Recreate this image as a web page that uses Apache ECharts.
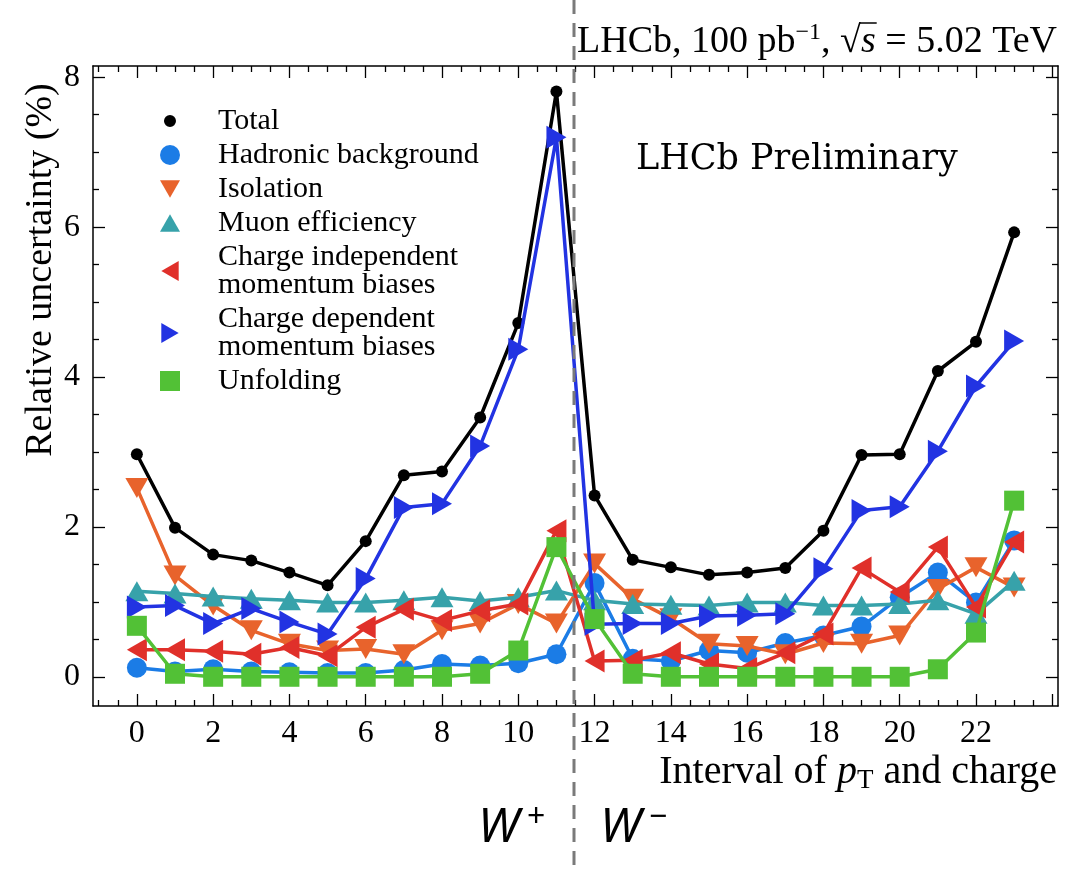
<!DOCTYPE html>
<html>
<head>
<meta charset="utf-8">
<title>Relative uncertainty per interval of pT and charge</title>
<script src="https://cdn.jsdelivr.net/npm/echarts@6/dist/echarts.min.js"></script>
<style>
  html, body { margin: 0; padding: 0; background: #ffffff; }
  #chart { width: 1066px; height: 869px; }
</style>
</head>
<body>
<div id="chart"></div>
<script>
// Interval index (pT bin and charge): 0-11 are W+, 12-23 are W-
const bins = [0, 1, 2, 3, 4, 5, 6, 7, 8, 9, 10, 11, 12, 13, 14, 15, 16, 17, 18, 19, 20, 21, 22, 23];

// Relative uncertainties in percent
const total       = [2.97, 1.99, 1.63, 1.55, 1.39, 1.22, 1.81, 2.69, 2.74, 3.46, 4.72, 7.81, 2.42, 1.56, 1.46, 1.36, 1.39, 1.45, 1.95, 2.96, 2.97, 4.08, 4.47, 5.93];
const hadronic    = [0.12, 0.07, 0.10, 0.07, 0.06, 0.05, 0.05, 0.09, 0.17, 0.15, 0.18, 0.30, 1.25, 0.24, 0.21, 0.35, 0.32, 0.45, 0.55, 0.67, 1.06, 1.39, 0.99, 1.82];
const isolation   = [2.52, 1.35, 0.95, 0.62, 0.44, 0.35, 0.37, 0.30, 0.62, 0.71, 0.97, 0.71, 1.51, 1.04, 0.78, 0.44, 0.41, 0.30, 0.45, 0.44, 0.55, 1.17, 1.46, 1.19];
const muonEff     = [1.14, 1.11, 1.07, 1.04, 1.02, 0.99, 0.99, 1.02, 1.06, 1.01, 1.06, 1.15, 1.02, 0.97, 0.96, 0.95, 0.99, 0.99, 0.95, 0.95, 0.97, 1.02, 0.84, 1.28];
const chargeIndep = [0.36, 0.36, 0.34, 0.30, 0.39, 0.28, 0.66, 0.90, 0.75, 0.88, 0.97, 1.95, 0.21, 0.22, 0.32, 0.17, 0.11, 0.32, 0.57, 1.45, 1.13, 1.73, 0.93, 1.80];
const chargeDep   = [0.93, 0.95, 0.71, 0.91, 0.73, 0.57, 1.31, 2.26, 2.31, 3.08, 4.37, 7.20, 0.70, 0.71, 0.71, 0.81, 0.82, 0.84, 1.44, 2.22, 2.27, 3.01, 3.88, 4.48];
const unfolding   = [0.68, 0.04, 0.00, 0.00, 0.00, 0.00, 0.00, 0.00, 0.00, 0.04, 0.35, 1.73, 0.77, 0.04, 0.00, 0.00, 0.00, 0.00, 0.00, 0.00, 0.00, 0.10, 0.59, 2.35];

// Series names as shown in the legend
const names = [
  'Total',
  'Hadronic background',
  'Isolation',
  'Muon efficiency',
  'Charge independent\nmomentum biases',
  'Charge dependent\nmomentum biases',
  'Unfolding'
];

// Axis tick labels
const xTickLabels = [0, 2, 4, 6, 8, 10, 12, 14, 16, 18, 20, 22];
const yTickLabels = [0, 2, 4, 6, 8];

// Axis ranges and tick spacing
const X_MIN = -1.15, X_MAX = 24.15;
const Y_MIN = -0.39, Y_MAX = 8.15;
function tickList(lo, hi, step, majorEvery) {
  const out = [];
  for (let v = Math.ceil(lo / step) * step; v <= hi + 1e-9; v += step) {
    const r = Math.round(v * 100) / 100;
    const isMajor = Math.abs(r / majorEvery - Math.round(r / majorEvery)) < 1e-6;
    out.push({ v: r, major: isMajor });
  }
  return out;
}
const xTicks = tickList(X_MIN, X_MAX, 0.5, 2);
const yTicks = tickList(Y_MIN, Y_MAX, 0.5, 2);
const xMajor = xTicks.filter(t => t.major).map(t => t.v);
const xMinor = xTicks.filter(t => !t.major).map(t => t.v);
const yMajor = yTicks.filter(t => t.major).map(t => t.v);
const yMinor = yTicks.filter(t => !t.major).map(t => t.v);

// Marker shapes
const DOT = 'path://M0,0L0.01,0.01ZM20,20L20.01,20.01ZM10,4A6,6,0,1,1,10,16A6,6,0,1,1,10,4Z';
const TRI_UP = 'path://M5,0L10,8.66L0,8.66Z';
const TRI_DOWN = 'path://M0,0L10,0L5,8.66Z';
const TRI_LEFT = 'path://M0,5L8.66,0L8.66,10Z';
const TRI_RIGHT = 'path://M8.66,5L0,0L0,10Z';

const SERIF = '"Liberation Serif", "Times New Roman", serif';
const BLACK = '#000000';

const styles = [
  { color: '#000000', symbol: 'circle', size: 12 },
  { color: '#1b7ce6', symbol: 'circle', size: 20 },
  { color: '#e8632c', symbol: TRI_DOWN, size: [23, 20] },
  { color: '#37a2aa', symbol: TRI_UP, size: [23, 20] },
  { color: '#e0302a', symbol: TRI_LEFT, size: [20, 23] },
  { color: '#2233e2', symbol: TRI_RIGHT, size: [20, 23] },
  { color: '#52c136', symbol: 'rect', size: 20 }
];
const legendIcons = [DOT, 'circle', TRI_DOWN, TRI_UP, TRI_LEFT, TRI_RIGHT, 'rect'];
const values = [total, hadronic, isolation, muonEff, chargeIndep, chargeDep, unfolding];

const series = values.map((vals, k) => ({
  name: names[k],
  type: 'line',
  xAxisIndex: 0,
  yAxisIndex: 0,
  data: bins.map((b, i) => [b, vals[i]]),
  symbol: styles[k].symbol,
  symbolSize: styles[k].size,
  itemStyle: { color: styles[k].color },
  lineStyle: { color: styles[k].color, width: 3.5 },
  emphasis: { disabled: true },
  z: 2 + k * 0.01
}));

function valueAxis(base, extra) {
  return Object.assign({
    type: 'value',
    gridIndex: 0,
    splitLine: { show: false },
    axisLine: { show: true, onZero: false, lineStyle: { color: BLACK, width: 1.5 } },
    axisLabel: { show: false },
    axisTick: { show: false }
  }, base, extra);
}
const NO_LINE = { show: false, onZero: false };

function ticks(values, len) {
  return { show: true, inside: true, length: len, customValues: values, lineStyle: { color: BLACK, width: 1.3 } };
}

const chart = echarts.init(document.getElementById('chart'), null, { renderer: 'canvas' });

// Measure text to place the radical bar above "s"
const ctx = document.createElement('canvas').getContext('2d');
function textWidth(str, font) { ctx.font = font; return ctx.measureText(str).width; }
const TOP_FS = 38;
const SUP_FS = 24;
const topMain = TOP_FS + 'px "Liberation Serif"';
const topSup = SUP_FS + 'px "Liberation Serif"';
const topIt = 'italic ' + TOP_FS + 'px "Liberation Serif"';
const pieces = [
  ['LHCb, 100 pb', topMain], ['\u22121', topSup], [', \u221A', topMain], ['s', topIt], [' = 5.02 TeV', topMain]
];
const widths = pieces.map(p => textWidth(p[0], p[1]));
const topRight = 1057;
const topLeft = topRight - widths.reduce((a, b) => a + b, 0);
const sStart = topLeft + widths[0] + widths[1] + widths[2];
const sEnd = sStart + widths[3];

const wRich = {
  w: { fontFamily: '"Noto Sans", sans-serif', fontStyle: 'italic', fontSize: 48, lineHeight: 52, fill: BLACK },
  s: { fontFamily: '"Noto Sans", sans-serif', fontSize: 32, lineHeight: 32, verticalAlign: 'top', padding: [0, 0, 0, 8], fill: BLACK }
};

chart.setOption({
  animation: false,
  backgroundColor: '#ffffff',
  grid: { left: 93, right: 8, top: 66, bottom: 163, containLabel: false },
  xAxis: [
    valueAxis({ position: 'bottom', min: X_MIN, max: X_MAX }, {
      axisTick: ticks(xMajor, 12),
      axisLabel: {
        show: true, customValues: xTickLabels, margin: 12,
        fontFamily: SERIF, fontSize: 32, color: BLACK
      }
    }),
    valueAxis({ position: 'bottom', min: X_MIN, max: X_MAX }, { axisLine: NO_LINE, axisTick: ticks(xMinor, 6) }),
    valueAxis({ position: 'top', min: X_MIN, max: X_MAX }, { axisTick: ticks(xMajor, 12) }),
    valueAxis({ position: 'top', min: X_MIN, max: X_MAX }, { axisLine: NO_LINE, axisTick: ticks(xMinor, 6) })
  ],
  yAxis: [
    valueAxis({ position: 'left', min: Y_MIN, max: Y_MAX }, {
      axisTick: ticks(yMajor, 12),
      axisLabel: {
        show: true, customValues: yTickLabels, margin: 13,
        fontFamily: SERIF, fontSize: 32, color: BLACK
      }
    }),
    valueAxis({ position: 'left', min: Y_MIN, max: Y_MAX }, { axisLine: NO_LINE, axisTick: ticks(yMinor, 6) }),
    valueAxis({ position: 'right', min: Y_MIN, max: Y_MAX }, { axisTick: ticks(yMajor, 12) }),
    valueAxis({ position: 'right', min: Y_MIN, max: Y_MAX }, { axisLine: NO_LINE, axisTick: ticks(yMinor, 6) })
  ],
  legend: {
    orient: 'vertical',
    left: 155,
    top: 101,
    itemWidth: 20,
    itemHeight: 20,
    itemGap: 4,
    selectedMode: false,
    textStyle: { fontFamily: SERIF, fontSize: 30, lineHeight: 28, color: BLACK, padding: [0, 0, 0, 33] },
    data: names.map((n, k) => ({ name: n, icon: legendIcons[k], itemStyle: { color: styles[k].color } }))
  },
  series: series,
  graphic: [
    // Separator between W+ and W- intervals
    {
      type: 'line', z: 100, silent: true,
      shape: { x1: 574, y1: 0, x2: 574, y2: 869 },
      style: { stroke: '#7a7a7a', lineWidth: 3, lineDash: [14, 9] }
    },
    {
      type: 'text', z: 100, silent: true, x: topRight, y: 42,
      style: {
        text: '{r|LHCb, 100 pb}{sup|\u22121}{r|, \u221A}{i|s}{r| = 5.02 TeV}',
        align: 'right', verticalAlign: 'middle',
        rich: {
          r: { fontFamily: SERIF, fontSize: TOP_FS, lineHeight: 42, fill: BLACK },
          i: { fontFamily: SERIF, fontStyle: 'italic', fontSize: TOP_FS, lineHeight: 42, fill: BLACK },
          sup: { fontFamily: SERIF, fontSize: SUP_FS, lineHeight: 24, verticalAlign: 'top', fill: BLACK }
        }
      }
    },
    {
      type: 'line', z: 100, silent: true,
      shape: { x1: sStart - 1, y1: 23, x2: sEnd + 1, y2: 23 },
      style: { stroke: BLACK, lineWidth: 1.5 }
    },
    {
      type: 'text', z: 100, silent: true, x: 636, y: 160,
      style: {
        text: 'LHCb Preliminary', align: 'left', verticalAlign: 'middle',
        fontFamily: '"DejaVu Serif", serif', fontSize: 35, fill: BLACK
      }
    },
    {
      type: 'text', z: 100, silent: true, x: 1057, y: 772,
      style: {
        text: '{r|Interval of }{i|p}{sub|T}{r| and charge}',
        align: 'right', verticalAlign: 'middle',
        rich: {
          r: { fontFamily: SERIF, fontSize: 40, lineHeight: 44, fill: BLACK },
          i: { fontFamily: SERIF, fontStyle: 'italic', fontSize: 40, lineHeight: 44, fill: BLACK },
          sub: { fontFamily: SERIF, fontSize: 27, lineHeight: 27, verticalAlign: 'bottom', fill: BLACK }
        }
      }
    },
    {
      type: 'text', z: 100, silent: true, x: 41, y: 270, rotation: Math.PI / 2,
      style: {
        text: 'Relative uncertainty (%)', align: 'center', verticalAlign: 'middle',
        fontFamily: SERIF, fontSize: 38, fill: BLACK
      }
    },
    {
      type: 'text', z: 100, silent: true, x: 478, y: 828,
      style: { text: '{w|W}{s|+}', align: 'left', verticalAlign: 'middle', rich: wRich }
    },
    {
      type: 'text', z: 100, silent: true, x: 600, y: 828,
      style: { text: '{w|W}{s|\u2212}', align: 'left', verticalAlign: 'middle', rich: wRich }
    }
  ]
});
</script>
</body>
</html>
